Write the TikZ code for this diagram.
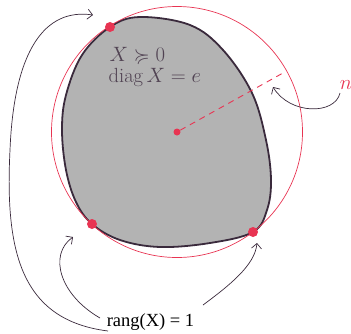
\documentclass[tikz,border=0pt]{standalone}
\usepackage{amsmath}
\usepackage{amssymb}
\usepackage{fontspec}
\newfontfamily\timesfont{Liberation Serif}
\usetikzlibrary{arrows.meta}
\definecolor{myred}{RGB}{232,52,82}
\definecolor{ink}{RGB}{58,42,60}
\definecolor{txtink}{RGB}{80,66,82}
\definecolor{blobgray}{RGB}{179,179,179}
\begin{document}
\begin{tikzpicture}[x=1pt,y=-1pt,
  reddot/.style={circle,fill=myred,inner sep=0pt,minimum size=10pt},
  smalldot/.style={circle,fill=myred,inner sep=0pt,minimum size=7pt},
  pointer/.style={draw=ink,line width=0.7pt,-{Straight Barb[length=5pt,width=10pt]}},
  mathlbl/.style={text=txtink,inner sep=0pt,font=\fontsize{20.5}{22}\selectfont},
]
\useasboundingbox (0,0) rectangle (351,333);
% blob
\draw[fill=blobgray,draw=ink,line width=1.8pt]
  plot[smooth cycle,tension=0.6] coordinates {
   (110,27) (140,17) (190,25) (223,50) (252,93) (266,140) (271,180)
   (267,210) (253,232) (210,243) (160,247) (120,240) (92,224)
   (76,202) (66,170) (62,130) (66,95) (82,55)};
% red circle
\node[smalldot] (c) at (177,132) {};
\draw[myred,line width=0.7pt] (c.center) circle[radius=125.5];
\coordinate (rim) at (283,73);
\draw[myred,line width=0.9pt,dash pattern=on 6pt off 5pt] (c) -- (rim);
% dots
\node[reddot] (p1) at (110,27) {};
\node[reddot] (p2) at (92,224) {};
\node[reddot] (p3) at (253,232) {};
% labels
\node[mathlbl,anchor=base west] (t1) at (109.5,61) {$X \succcurlyeq 0$};
\node[mathlbl,anchor=base west] (t2) at (108.5,82.5) {$\operatorname{diag} X = e$};
\node[text=myred,inner sep=0pt,anchor=base,font=\fontsize{20.5}{22}\selectfont] (n) at (346,89) {$n$};
\node[inner sep=0pt,anchor=base,font=\timesfont\fontsize{18.5}{20}\selectfont] (r) at (150.5,326) {rang(X) = 1};
% arrow end points
\coordinate (a1s) at (108,331);
\coordinate (a1e) at (93,15);
\coordinate (a2s) at (100,318);
\coordinate (a2e) at (73,237);
\coordinate (a3s) at (203,305);
\coordinate (a3e) at (257,243);
\coordinate (a4s) at (340,93);
\coordinate (a4e) at (273,87);
\draw[pointer] (a1s) .. controls (20,320) and (5,250) .. (10,150)
   .. controls (14,50) and (45,8) .. (a1e);
\draw[pointer] (a2s) .. controls (60,295) and (48,255) .. (a2e);
\draw[pointer] (a3s) .. controls (230,285) and (255,265) .. (a3e);
\draw[pointer] (a4s) .. controls (335,115) and (290,115) .. (a4e);
\end{tikzpicture}
\end{document}
